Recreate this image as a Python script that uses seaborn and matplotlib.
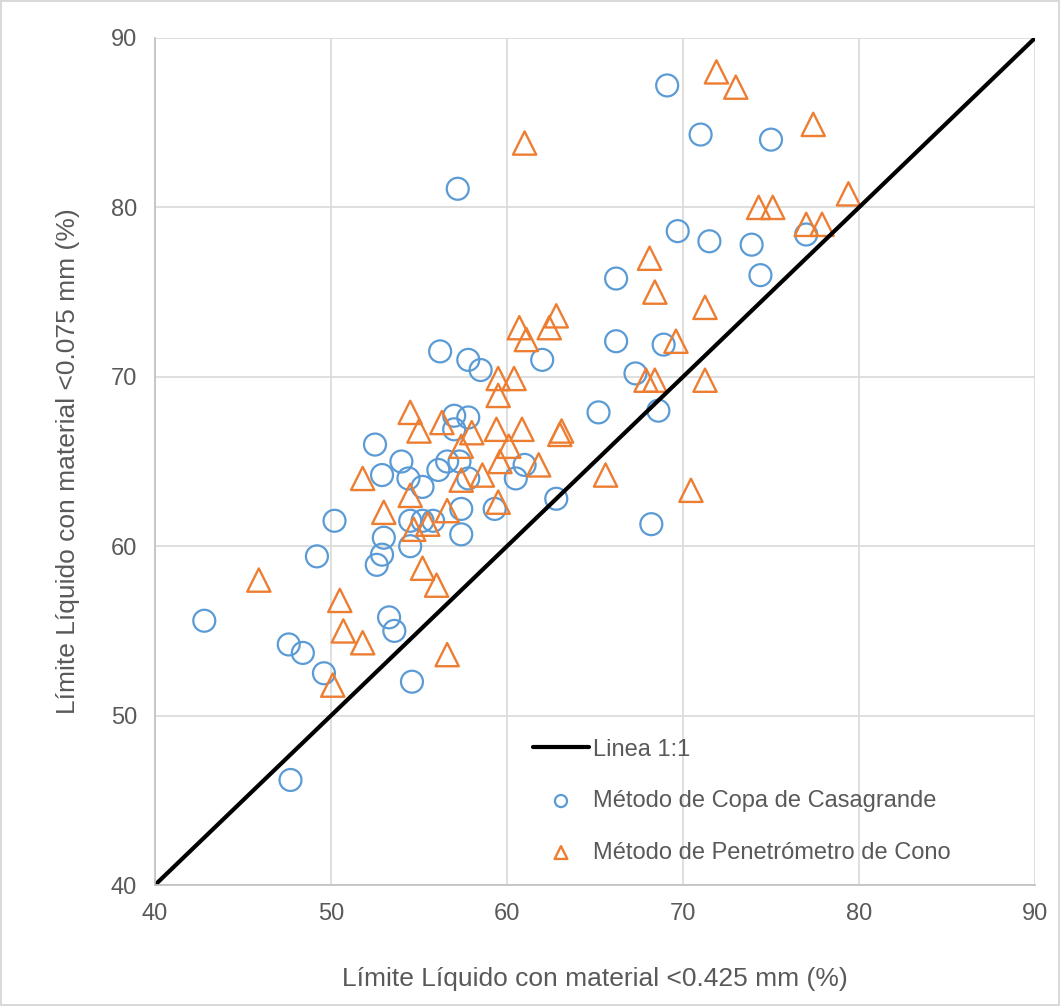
import matplotlib
matplotlib.use("Agg")
import matplotlib.pyplot as plt
import seaborn as sns

# Método de Copa de Casagrande (x: <0.425 mm, y: <0.075 mm)
casa_x = [42.8, 47.6, 48.4, 49.6, 47.7, 49.2, 50.2, 52.5, 52.9, 52.6, 52.9, 53.0, 53.3, 53.6,
          54.0, 54.4, 54.5, 55.2, 55.8, 54.5, 54.6, 55.2, 56.2, 56.1, 56.6, 57.0, 57.0, 57.3,
          57.4, 57.4, 57.2, 57.8, 57.8, 57.8, 58.5, 59.3, 60.5, 61.0, 62.0, 62.8, 65.2, 66.2,
          66.2, 67.3, 68.6, 68.9, 68.2, 69.1, 69.7, 71.0, 71.5, 73.9, 74.4, 75.0, 77.0]
casa_y = [55.6, 54.2, 53.7, 52.5, 46.2, 59.4, 61.5, 66.0, 64.2, 58.9, 59.5, 60.5, 55.8, 55.0,
          65.0, 64.0, 61.5, 61.5, 61.5, 60.0, 52.0, 63.5, 71.5, 64.5, 65.0, 67.7, 66.9, 65.0,
          62.2, 60.7, 81.1, 71.0, 67.6, 64.0, 70.4, 62.2, 64.0, 64.8, 71.0, 62.8, 67.9, 75.8,
          72.1, 70.2, 68.0, 71.9, 61.3, 87.2, 78.6, 84.3, 78.0, 77.8, 76.0, 84.0, 78.4]

# Método de Penetrómetro de Cono
cono_x = [45.9, 50.5, 50.7, 51.8, 50.1, 51.8, 53.0, 54.5, 55.0, 54.5, 54.7, 55.5, 55.2, 56.0,
          56.3, 56.6, 56.6, 57.4, 57.4, 58.0, 58.6, 59.5, 59.5, 59.4, 59.6, 59.5, 60.1, 60.4,
          60.7, 61.1, 60.85, 61.0, 61.8, 62.4, 62.8, 63.1, 63.0, 65.6, 67.9, 68.4, 68.1, 68.4,
          69.6, 71.25, 71.25, 70.45, 71.9, 73.0, 74.3, 75.1, 77.0, 77.9, 77.4, 79.4]
cono_y = [58.0, 56.8, 55.0, 54.3, 51.8, 64.0, 62.0, 67.9, 66.8, 63.0, 61.0, 61.3, 58.7, 57.7,
          67.3, 62.1, 53.6, 65.9, 63.9, 66.7, 64.2, 69.9, 68.9, 66.9, 65.0, 62.6, 65.9, 69.9,
          72.9, 72.2, 66.9, 83.8, 64.8, 72.9, 73.6, 66.8, 66.6, 64.2, 69.8, 69.8, 77.0, 75.0,
          72.1, 74.1, 69.8, 63.3, 88.0, 87.1, 80.0, 80.0, 79.0, 79.0, 84.9, 80.8]

# Linea 1:1
linea_x = [40, 90]
linea_y = [40, 90]

ticks = [40, 50, 60, 70, 80, 90]

blue = "#5B9BD5"
orange = "#ED7D31"
grey_text = "#595959"

sns.set_style("white")
plt.rcParams["font.family"] = ["Liberation Sans", "DejaVu Sans"]

fig = plt.figure(figsize=(10.6, 10.06), dpi=100)
fig.patch.set_edgecolor("#d9d9d9")
fig.patch.set_linewidth(1.5)
ax = fig.add_axes([155 / 1060, 1 - 885 / 1006, 880 / 1060, 847 / 1006])

sns.lineplot(x=linea_x, y=linea_y, color="black", linewidth=3, label="Linea 1:1", ax=ax)
sns.scatterplot(x=casa_x, y=casa_y, marker="o", s=250, facecolor="none", edgecolor=blue,
                linewidth=1.6, label="Método de Copa de Casagrande", ax=ax)
sns.scatterplot(x=cono_x, y=cono_y, marker="^", s=280, facecolor="none", edgecolor=orange,
                linewidth=1.7, label="Método de Penetrómetro de Cono", ax=ax)

ax.set_xlim(40, 90)
ax.set_ylim(40, 90)
ax.set_xticks(ticks)
ax.set_yticks(ticks)
ax.grid(True, color="#d9d9d9", linewidth=1.2)
ax.set_axisbelow(True)
for side in ["top", "right"]:
    ax.spines[side].set_visible(False)
for side in ["left", "bottom"]:
    ax.spines[side].set_color("#bfbfbf")
    ax.spines[side].set_linewidth(1.2)
ax.tick_params(length=0, labelsize=17, labelcolor=grey_text, pad=13)

ax.set_xlabel("Límite Líquido con material <0.425 mm (%)", fontsize=19, color=grey_text, labelpad=30)
ax.set_ylabel("Límite Líquido con material <0.075 mm (%)", fontsize=19, color=grey_text, labelpad=22)

leg = ax.legend(loc="lower left", bbox_to_anchor=(0.405, 0.0), frameon=False, fontsize=17,
                markerscale=0.55, handlelength=2.4, labelspacing=1.25, handletextpad=0.15)
for t in leg.get_texts():
    t.set_color(grey_text)

fig.savefig("out.png", dpi=100)
